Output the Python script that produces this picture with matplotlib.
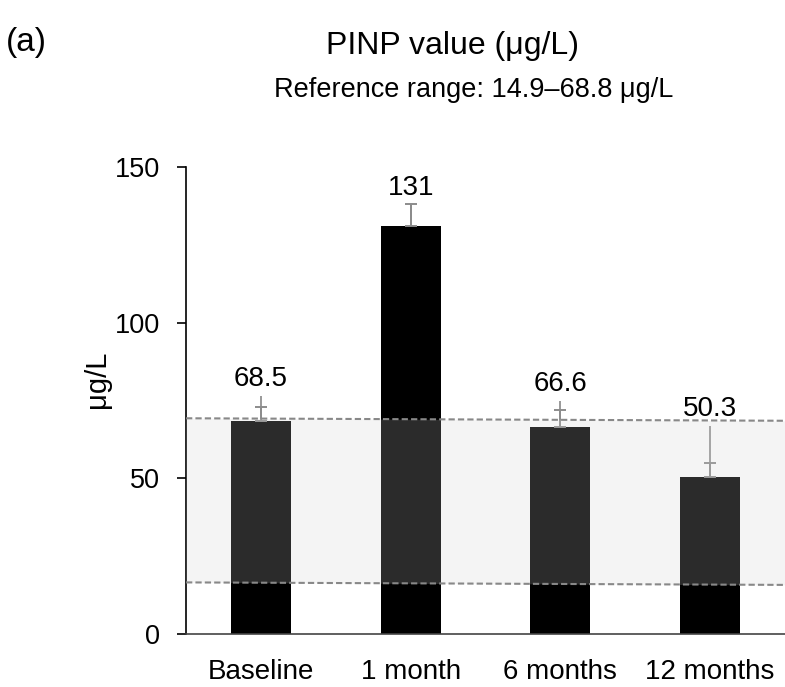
import numpy as np
import matplotlib.pyplot as plt

plt.rcParams['font.family'] = ['Liberation Sans', 'DejaVu Sans']

# data
labels = ['Baseline', '1 month', '6 months', '12 months']
means = [68.5, 131, 66.6, 50.3]
err_cap = [72.8, 138.0, 72.0, 55.0]     # upper end of capped error bar
err_top = [76.5, 138.0, 74.8, 66.8]     # upper end of uncapped whisker
band_x = [-0.5, 3.5]
band_top = [69.3, 68.5]
band_bottom = [16.6, 15.8]

x = np.arange(len(labels))

fig = plt.figure(figsize=(7.85, 6.87), dpi=100)
ax = fig.add_axes([0.237, 0.077, 0.763, 0.680])

ax.bar(x, means, width=0.4, color='black', zorder=2)

# whiskers: uncapped line up to err_top, capped bar up to err_cap
m = np.array(means)
ax.vlines(x, m, err_top, color='#999999', lw=1.4, zorder=3)
ax.errorbar(x, m, yerr=[np.zeros(len(m)), np.array(err_cap) - m], fmt='none',
            ecolor='#8c8c8c', elinewidth=1.4, capsize=4.3, capthick=1.4, zorder=3)

# reference range band
ax.fill_between(band_x, band_bottom, band_top, color=(0.81, 0.81, 0.81),
                alpha=0.21, lw=0, zorder=4)
ax.plot(band_x, band_top, ls=(0, (3, 1.5)), color='#888888', lw=1.5, zorder=5)
ax.plot(band_x, band_bottom, ls=(0, (3, 1.5)), color='#888888', lw=1.5, zorder=5)

for xi, v, t in zip(x, means, err_top):
    ax.annotate(f'{v:g}', (xi, t), xytext=(0, 7), textcoords='offset points',
                ha='center', va='baseline', fontsize=20)

ax.set_xlim(-0.5, 3.5)
ax.set_ylim(0, 150)
ax.set_yticks([0, 50, 100, 150])
ax.set_xticks(x)
ax.set_xticklabels(labels)
ax.tick_params(axis='y', labelsize=19.5, length=6.5, width=1.2, pad=12)
ax.tick_params(axis='x', labelsize=20, length=0, pad=18)
ax.spines['top'].set_visible(False)
ax.spines['right'].set_visible(False)
ax.spines['left'].set_linewidth(1.2)
ax.spines['bottom'].set_linewidth(1.2)
ax.spines['bottom'].set_color('#444444')
ax.set_ylabel('μg/L', fontsize=21)
ax.yaxis.set_label_coords(-0.125, 0.545)

fig.text(0.577, 0.922, 'PINP value (μg/L)', ha='center', va='baseline', fontsize=23)
fig.text(0.604, 0.859, 'Reference range: 14.9–68.8 μg/L', ha='center', va='baseline', fontsize=19.5)
fig.text(0.008, 0.926, '(a)', ha='left', va='baseline', fontsize=24)

fig.savefig('out.png', dpi=100)
